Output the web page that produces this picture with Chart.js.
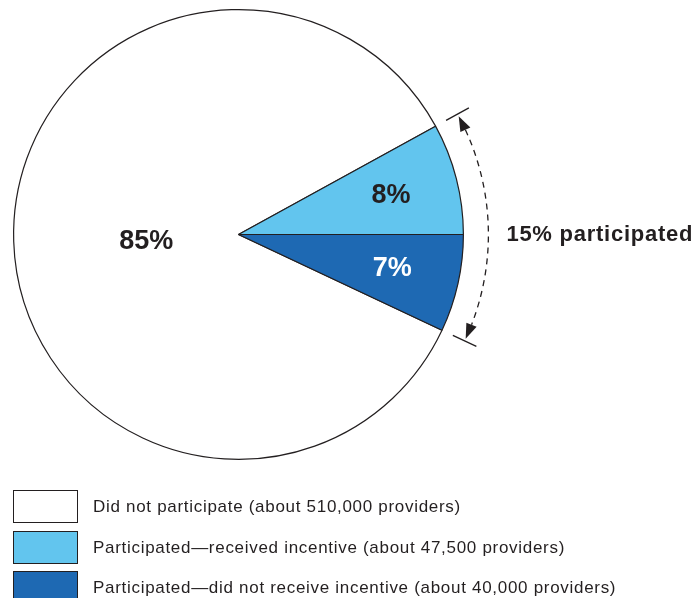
<!DOCTYPE html>
<html>
<head>
<meta charset="utf-8">
<script src="https://cdn.jsdelivr.net/npm/chart.js@4.4.1/dist/chart.umd.min.js"></script>
<style>
  html, body { margin: 0; padding: 0; background: #fff; }
  #wrap { position: relative; width: 699px; height: 598px; overflow: hidden; }
  #pie { position: absolute; left: 0; top: 0; }
  #legend { position: absolute; left: 13px; top: 490px; font-family: "Liberation Sans", Arial, Helvetica, sans-serif; font-size: 17px; letter-spacing: 0.7px; color: #231f20; }
  .row { position: relative; height: 33px; margin-bottom: 7.5px; }
  .box { position: absolute; left: 0; top: 0; width: 63px; height: 31px; border: 1.2px solid #231f20; }
  .txt { position: absolute; left: 80px; top: 0; line-height: 33px; white-space: nowrap; }
</style>
</head>
<body>
<div id="wrap">
  <canvas id="pie" width="699" height="598"></canvas>
  <div id="legend"></div>
</div>
<script>
// share of providers, percent
const categories = ["Did not participate", "Participated\u2014received incentive", "Participated\u2014did not receive incentive"];
const shares = [85, 8, 7];
const providers = ["510,000", "47,500", "40,000"];
const colors = ["#ffffff", "#62c5ee", "#1e69b3"];
const labelColors = ["#231f20", "#231f20", "#ffffff"];
const participatedLabel = "participated";

const font = '"Liberation Sans", Arial, Helvetica, sans-serif';
const total = shares.reduce((a, b) => a + b, 0);

// legend
const legend = document.getElementById("legend");
categories.forEach((cat, i) => {
  const row = document.createElement("div");
  row.className = "row";
  row.innerHTML = `<div class="box" style="background:${colors[i]}"></div>` +
    `<div class="txt">${cat} (about ${providers[i]} providers)</div>`;
  legend.appendChild(row);
});

const annotate = {
  id: "annotate",
  afterDatasetsDraw(chart, args, opts) {
    const ctx = chart.ctx;
    const arcs = chart.getDatasetMeta(0).data;
    const cx = arcs[0].x, cy = arcs[0].y, R = arcs[0].outerRadius;

    // percent labels inside slices
    ctx.save();
    ctx.font = "bold 27px " + font;
    ctx.textAlign = "center";
    ctx.textBaseline = "middle";
    arcs.forEach((arc, i) => {
      const mid = (arc.startAngle + arc.endAngle) / 2;
      const r = R * opts.labelRadius[i];
      ctx.fillStyle = labelColors[i];
      ctx.fillText(shares[i] + "%", cx + r * Math.cos(mid) + opts.labelShift[i][0], cy + r * Math.sin(mid) + opts.labelShift[i][1]);
    });

    // bracket round the participated slices
    const a0 = arcs[1].startAngle, a1 = arcs[2].endAngle;
    ctx.strokeStyle = "#231f20";
    ctx.fillStyle = "#231f20";
    ctx.lineWidth = 1.3;
    [a0, a1].forEach(a => {
      ctx.beginPath();
      ctx.moveTo(cx + (R + 12) * Math.cos(a), cy + (R + 12) * Math.sin(a));
      ctx.lineTo(cx + (R + 38) * Math.cos(a), cy + (R + 38) * Math.sin(a));
      ctx.stroke();
    });

    const rr = R + 25;
    const tipGap = 2.5 / rr, head = 15 / rr;
    ctx.setLineDash([6, 5]);
    ctx.beginPath();
    ctx.arc(cx, cy, rr, a0 + tipGap + head, a1 - tipGap - head);
    ctx.stroke();
    ctx.setLineDash([]);

    const arrow = (tip, base) => {
      const bx = cx + rr * Math.cos(base), by = cy + rr * Math.sin(base);
      const ux = Math.cos(base), uy = Math.sin(base);
      ctx.beginPath();
      ctx.moveTo(cx + rr * Math.cos(tip), cy + rr * Math.sin(tip));
      ctx.lineTo(bx + 5.5 * ux, by + 5.5 * uy);
      ctx.lineTo(bx - 5.5 * ux, by - 5.5 * uy);
      ctx.closePath();
      ctx.fill();
    };
    arrow(a0 + tipGap, a0 + tipGap + head);
    arrow(a1 - tipGap, a1 - tipGap - head);

    ctx.font = "bold 22px " + font;
    ctx.letterSpacing = "0.75px";
    ctx.textAlign = "left";
    ctx.fillText((shares[1] + shares[2]) + "% " + participatedLabel, cx + R + 43, cy);
    ctx.restore();
  }
};

new Chart(document.getElementById("pie"), {
  type: "pie",
  data: {
    labels: categories,
    datasets: [{
      data: shares,
      backgroundColor: colors,
      borderColor: "#231f20",
      borderWidth: 1.2,
      hoverOffset: 0,
    }],
  },
  options: {
    responsive: false,
    animation: false,
    // start the white slice just below 3 o'clock so the two blue slices straddle it
    rotation: 90 + 360 * shares[2] / total,
    layout: { padding: { left: 13, top: 9, right: 235, bottom: 138 } },
    plugins: {
      legend: { display: false },
      tooltip: { enabled: false },
      annotate: { labelRadius: [0.41, 0.7, 0.7], labelShift: [[0, 4], [0, 0], [0, 0]] },
    },
  },
  plugins: [annotate],
});
</script>
</body>
</html>
